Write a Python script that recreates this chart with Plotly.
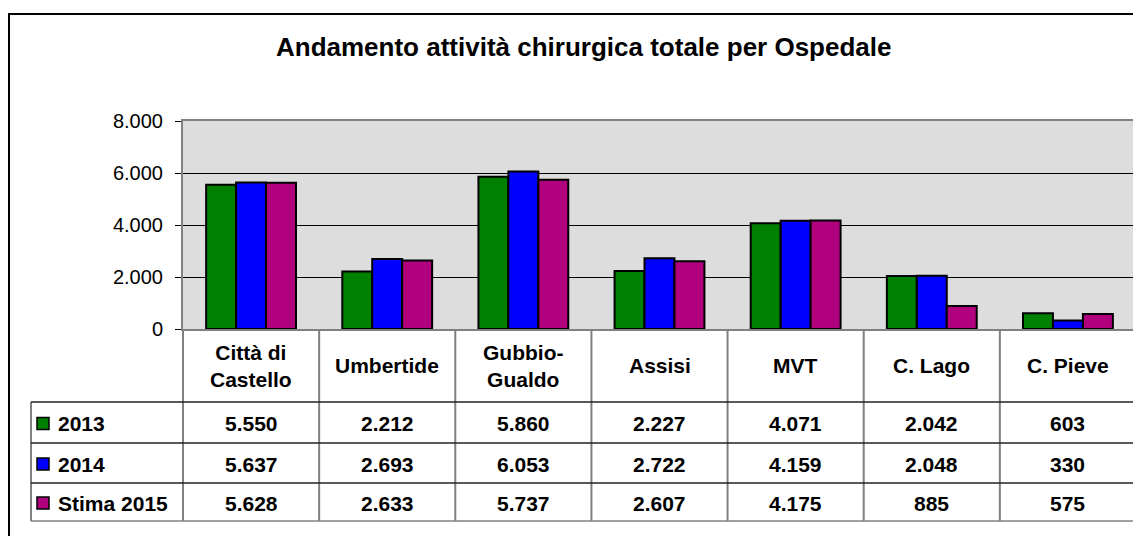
import plotly.graph_objects as go

# ---- data ----
categories = ["Città di Castello", "Umbertide", "Gubbio-Gualdo", "Assisi", "MVT", "C. Lago", "C. Pieve"]
header_labels = ["Città di<br>Castello", "Umbertide", "Gubbio-<br>Gualdo", "Assisi", "MVT", "C. Lago", "C. Pieve"]
series_names = ["2013", "2014", "Stima 2015"]
v2013 = [5550, 2212, 5860, 2227, 4071, 2042, 603]
v2014 = [5637, 2693, 6053, 2722, 4159, 2048, 330]
v2015 = [5628, 2633, 5737, 2607, 4175, 885, 575]
series_values = [v2013, v2014, v2015]
colors = ["#008000", "#0000FF", "#B0007E"]
title = "Andamento attività chirurgica totale per Ospedale"

OFF = 8  # page body margin compensation
W, H = 1141 - OFF, 536 - OFF
def px(x):
    return (x - OFF) / W
def py(y):
    return 1 - (y - OFF) / H

FONT = "Liberation Sans, Arial, sans-serif"

# plot-area geometry (target pixels in the screenshot)
PL, PR, PT, PB = 183, 1136, 121, 329
ROWS = [402, 443, 483, 521]   # row boundaries of table
LEG_L = 31

fig = go.Figure()
for name, vals, c in zip(series_names, series_values, colors):
    fig.add_trace(go.Bar(
        x=categories, y=vals, name=name,
        marker=dict(color=c, line=dict(color="#000000", width=2)),
        showlegend=False, hoverinfo="x+y+name",
    ))

def fmt(v):
    return f"{v:,}".replace(",", ".")

shapes = []
annotations = []

# outer chart border
shapes.append(dict(type="rect", xref="paper", yref="paper",
                   x0=px(9), x1=px(1160), y0=py(14), y1=py(560),
                   line=dict(color="#000000", width=2), layer="above"))

# title
annotations.append(dict(text="<b>" + title + "</b>", xref="paper", yref="paper",
                        x=px(583), y=py(47), xanchor="center", yanchor="middle",
                        showarrow=False, font=dict(family=FONT, size=26, color="#000")))

# table: vertical category separators
n = len(categories)
cw = (PR - PL) / n
for k in range(n + 1):
    xx = PL + k * cw
    shapes.append(dict(type="line", xref="paper", yref="paper",
                       x0=px(xx), x1=px(xx), y0=py(PB), y1=py(ROWS[-1]),
                       line=dict(color="#808080", width=2), layer="above"))
# legend column left line
shapes.append(dict(type="line", xref="paper", yref="paper",
                   x0=px(LEG_L), x1=px(LEG_L), y0=py(ROWS[0]), y1=py(ROWS[-1]),
                   line=dict(color="#808080", width=2)))
# horizontal row lines
for i, yy in enumerate(ROWS):
    col = "#808080" if i == len(ROWS) - 1 else "#222222"
    shapes.append(dict(type="line", xref="paper", yref="paper",
                       x0=px(LEG_L), x1=px(PR), y0=py(yy), y1=py(yy),
                       line=dict(color=col, width=1.5)))

# header row labels
for cat, lab in zip(categories, header_labels):
    annotations.append(dict(text="<b>" + lab + "</b>", xref="x", yref="paper",
                            x=cat, y=py((PB + ROWS[0]) / 2), xanchor="center", yanchor="middle",
                            showarrow=False, font=dict(family=FONT, size=21, color="#000")))

# data rows
for r, (name, vals, c) in enumerate(zip(series_names, series_values, colors)):
    yc = (ROWS[r] + ROWS[r + 1]) / 2 + 1
    # legend key
    shapes.append(dict(type="rect", xref="paper", yref="paper",
                       x0=px(37), x1=px(49), y0=py(yc - 6), y1=py(yc + 6),
                       fillcolor=c, line=dict(color="#000000", width=1.5)))
    annotations.append(dict(text="<b>" + name + "</b>", xref="paper", yref="paper",
                            x=px(56), y=py(yc), xanchor="left", yanchor="middle",
                            showarrow=False, font=dict(family=FONT, size=21, color="#000")))
    for cat, v in zip(categories, vals):
        annotations.append(dict(text="<b>" + fmt(v) + "</b>", xref="x", yref="paper",
                                x=cat, y=py(yc), xanchor="center", yanchor="middle",
                                showarrow=False, font=dict(family=FONT, size=21, color="#000")))

fig.update_layout(
    width=W, height=H,
    margin=dict(l=0, r=0, t=0, b=0, autoexpand=False),
    paper_bgcolor="#FFFFFF",
    plot_bgcolor="#DDDDDD",
    separators=",.",
    barmode="group", bargap=0.34, bargroupgap=0,
    shapes=shapes, annotations=annotations,
    font=dict(family=FONT, color="#000"),
    xaxis=dict(domain=[px(PL), px(PR)], showticklabels=False, ticks="",
               showline=True, linecolor="#808080", linewidth=2, mirror=True,
               showgrid=False, zeroline=False, automargin=False),
    yaxis=dict(domain=[py(PB), py(PT)], range=[0, 8000], dtick=2000,
               tickformat=",.0f", ticks="outside", ticklen=6, tickcolor="#000",
               ticklabelstandoff=8, automargin=False,
               tickfont=dict(family=FONT, size=20, color="#000"),
               showline=True, linecolor="#808080", linewidth=2, mirror=True,
               showgrid=True, gridcolor="#000000", gridwidth=1, zeroline=False),
)

fig.write_html("out.html")
